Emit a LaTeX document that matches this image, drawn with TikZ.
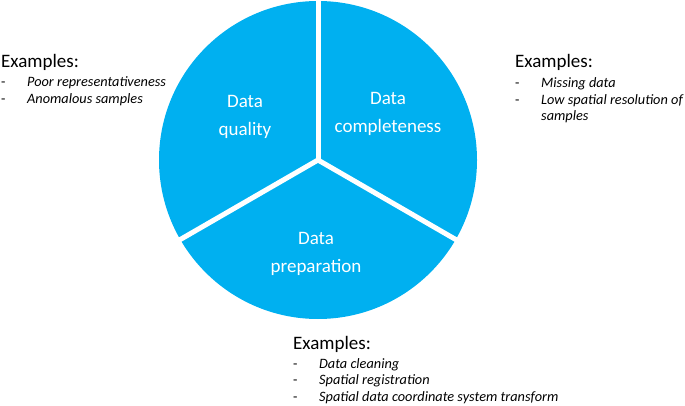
\documentclass[tikz,border=0pt]{standalone}
\usepackage{fontspec}
\setmainfont{Carlito}
\usetikzlibrary{positioning,calc}
\definecolor{pieblue}{RGB}{0,176,240}
\tikzset{
  pie/.style={fill=pieblue},
  gap/.style={draw=white,line width=5pt},
  seglbl/.style={text=white,font=\fontsize{19}{28}\selectfont,align=center,inner sep=0pt},
  exhead/.style={anchor=base west,font=\fontsize{19}{23}\selectfont,inner sep=0pt},
  exlist/.style={anchor=base west,font=\fontsize{14.3}{16.5}\selectfont,inner sep=0pt}
}
\newcommand{\exitems}[1]{\begin{tabular}[t]{@{}p{26pt}@{}l@{}}#1\end{tabular}}

\begin{document}
\begin{tikzpicture}[x=1pt,y=1pt]
  \useasboundingbox (0,0) rectangle (685,405);

  % the pie
  \coordinate (c) at (318,245);
  \fill[pie] (c) circle (159);
  \foreach \a in {90,210,330}
    \draw[gap] (c) -- ++(\a:166);

  % segment labels
  \node[seglbl] (quality) at (245,288) {Data\\quality};
  \node[seglbl] (complete) at (388,291) {Data\\completeness};
  \node[seglbl] (prep) at (316,151) {Data\\preparation};

  % Examples: data quality
  \node[exhead] (qhead) at (1,337) {Examples:};
  \node[exlist] (qlist) at ([yshift=-19pt]qhead.base west)
    {\exitems{-&\textit{Poor representativeness}\\-&\textit{Anomalous samples}}};

  % Examples: data completeness
  \node[exhead] (chead) at (515,337) {Examples:};
  \node[exlist] (clist) at ([yshift=-20pt]chead.base west)
    {\exitems{-&\textit{Missing data}\\-&\textit{Low spatial resolution of}\\&\textit{samples}}};

  % Examples: data preparation
  \node[exhead] (phead) at (293,56) {Examples:};
  \node[exlist] (plist) at ([yshift=-19pt]phead.base west)
    {\exitems{-&\textit{Data cleaning}\\-&\textit{Spatial registration}\\-&\textit{Spatial data coordinate system transform}}};
\end{tikzpicture}
\end{document}
